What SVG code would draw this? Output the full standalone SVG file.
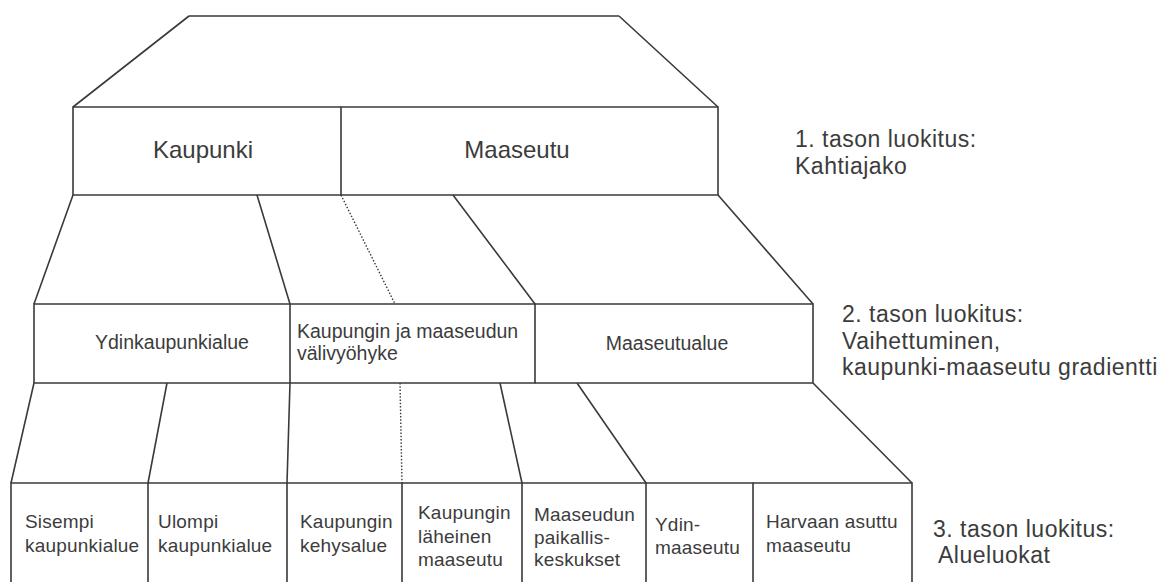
<svg xmlns="http://www.w3.org/2000/svg" width="1164" height="582" viewBox="0 0 1164 582">
<style>
.ln{fill:none;stroke:#3a3a3a;stroke-width:1.6}
.dot{fill:none;stroke:#3a3a3a;stroke-width:1.4;stroke-dasharray:1.5 1.8}
text{font-family:"Liberation Sans",Arial,sans-serif;fill:#3c3c3c}
.t1{font-size:24px}
.t2{font-size:19.5px}
.t3{font-size:19px;letter-spacing:0.2px}
.lab{font-size:23px;letter-spacing:0.5px}
</style>
<rect width="1164" height="582" fill="#fff"/>
<g id="connectors">
<path class="ln" d="M189,16 H619 M189,16 L73,107 M619,16 L718,107"/>
<path class="ln" d="M73,195 L34,304 M257,195 L290,304 M453,195 L535,304 M718,195 L813,304"/>
<path class="dot" d="M341,195 L395,304"/>
<path class="ln" d="M34,383 L11,483 M167,383 L148,483 M290,383 L287,483 M500,383 L522,483 M577,383 L646,483 M813,383 L912,483"/>
<path class="dot" d="M400,383 L402,483"/>
</g>
<g id="kaupunki">
<path class="ln" d="M341,107 H73 V195 H341"/>
<text class="t1" x="203" y="158" text-anchor="middle">Kaupunki</text>
</g>
<g id="maaseutu">
<path class="ln" d="M341,107 H718 V195 H341 Z"/>
<text class="t1" x="517" y="158" text-anchor="middle">Maaseutu</text>
</g>
<g id="ydinkaupunkialue">
<path class="ln" d="M290,304 H34 V383 H290"/>
<text class="t2" x="172" y="349" text-anchor="middle">Ydinkaupunkialue</text>
</g>
<g id="valivyohyke">
<path class="ln" d="M290,304 H535 V383 H290 Z"/>
<text class="t2" x="297" y="338">Kaupungin ja maaseudun</text>
<text class="t2" x="297" y="360">välivyöhyke</text>
</g>
<g id="maaseutualue">
<path class="ln" d="M535,304 H813 V383 H535"/>
<text class="t2" x="667" y="350" text-anchor="middle">Maaseutualue</text>
</g>
<g id="sisempi">
<path class="ln" d="M11,582 V483 H148 V582"/>
<text class="t3" x="25" y="528">Sisempi</text>
<text class="t3" x="25" y="552">kaupunkialue</text>
</g>
<g id="ulompi">
<path class="ln" d="M148,483 H287 V582"/>
<text class="t3" x="158" y="528">Ulompi</text>
<text class="t3" x="158" y="552">kaupunkialue</text>
</g>
<g id="kehysalue">
<path class="ln" d="M287,483 H402 V582"/>
<text class="t3" x="300" y="528">Kaupungin</text>
<text class="t3" x="300" y="552">kehysalue</text>
</g>
<g id="laheinen">
<path class="ln" d="M402,483 H522 V582"/>
<text class="t3" x="418" y="519">Kaupungin</text>
<text class="t3" x="418" y="543">läheinen</text>
<text class="t3" x="418" y="566">maaseutu</text>
</g>
<g id="paikalliskeskukset">
<path class="ln" d="M522,483 H646 V582"/>
<text class="t3" x="534" y="521">Maaseudun</text>
<text class="t3" x="534" y="544">paikallis-</text>
<text class="t3" x="534" y="566">keskukset</text>
</g>
<g id="ydinmaaseutu">
<path class="ln" d="M646,483 H753 V582"/>
<text class="t3" x="655" y="531">Ydin-</text>
<text class="t3" x="655" y="554">maaseutu</text>
</g>
<g id="harvaan">
<path class="ln" d="M753,483 H912 V582"/>
<text class="t3" x="766" y="528">Harvaan asuttu</text>
<text class="t3" x="766" y="552">maaseutu</text>
</g>
<g id="labels">
<text class="lab" x="795" y="147">1. tason luokitus:</text>
<text class="lab" x="795" y="174">Kahtiajako</text>
<text class="lab" x="842" y="322">2. tason luokitus:</text>
<text class="lab" x="842" y="349">Vaihettuminen,</text>
<text class="lab" x="842" y="375">kaupunki-maaseutu gradientti</text>
<text class="lab" x="933" y="537">3. tason luokitus:</text>
<text class="lab" x="938" y="563">Alueluokat</text>
</g>
</svg>
